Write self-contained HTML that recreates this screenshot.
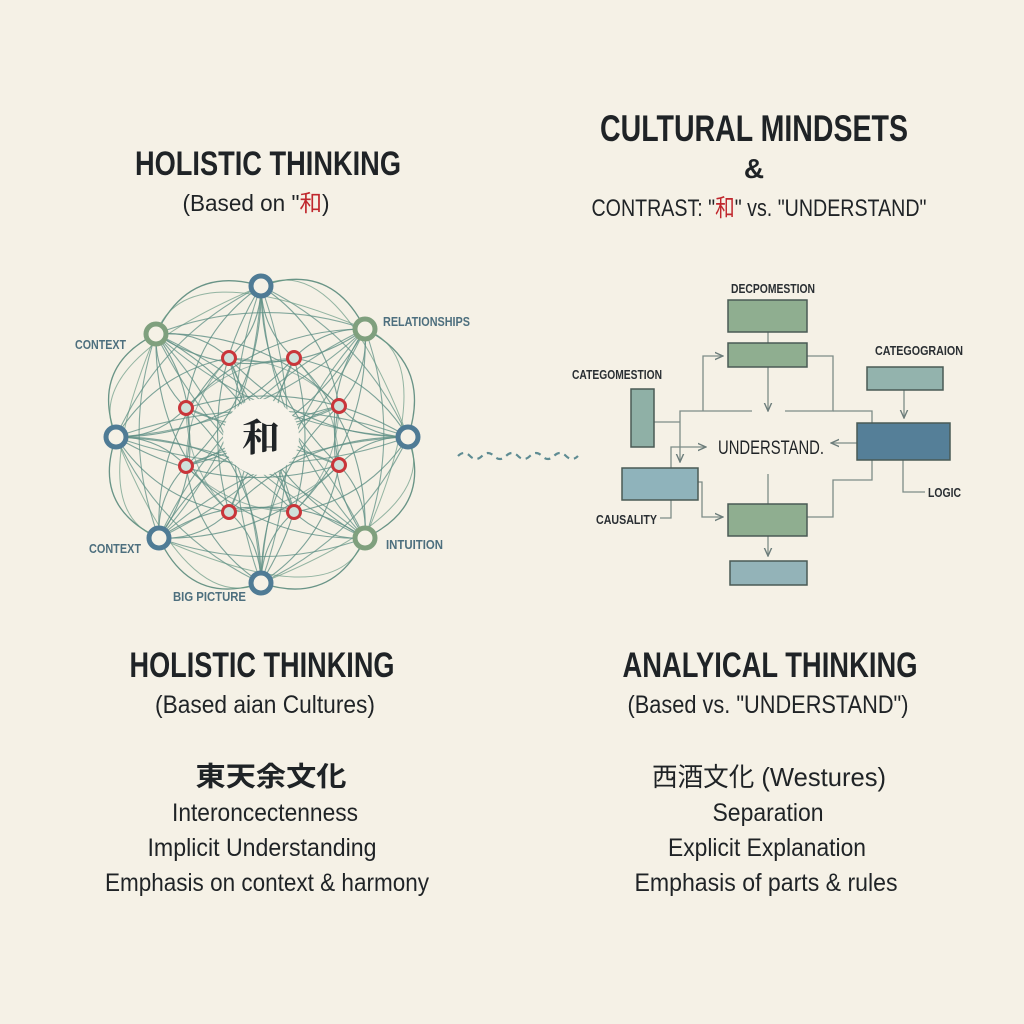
<!DOCTYPE html>
<html><head><meta charset="utf-8"><style>
html,body{margin:0;padding:0;background:#f5f1e6;}
svg{display:block;}
text{font-family:"Liberation Sans Narrow","Liberation Sans","Noto Sans CJK JP",sans-serif;fill:#1f2326;}
.lab{font-size:13px;fill:#4d6f7e;font-weight:bold;}
.rl{font-size:13px;fill:#2a2f33;font-weight:bold;}
.t{font-weight:bold;}
</style></head><body>
<svg id="s" width="1024" height="1024" viewBox="0 0 1024 1024" xmlns="http://www.w3.org/2000/svg">
<rect width="1024" height="1024" fill="#f5f1e6"/>
<text class="t" x="268" y="175" font-size="34" text-anchor="middle" textLength="266" lengthAdjust="spacingAndGlyphs">HOLISTIC THINKING</text>
<text x="256" y="211" font-size="23" text-anchor="middle" textLength="147" lengthAdjust="spacingAndGlyphs">(Based on "<tspan fill="#c0272d">和</tspan>)</text>
<text class="t" x="754" y="141" font-size="37" text-anchor="middle" textLength="308" lengthAdjust="spacingAndGlyphs">CULTURAL MINDSETS</text>
<text class="t" x="754" y="178" font-size="28" text-anchor="middle">&amp;</text>
<text x="759" y="216" font-size="24" text-anchor="middle" textLength="335" lengthAdjust="spacingAndGlyphs">CONTRAST: "<tspan fill="#c0272d">和</tspan>" vs. "UNDERSTAND"</text>

<defs><marker id="ar" viewBox="0 0 10 10" refX="9" refY="5" markerWidth="7" markerHeight="7" orient="auto"><path d="M0,1 L9,5 L0,9" fill="none" stroke="#6b7c7a" stroke-width="1.5"/></marker>
<marker id="ar2" viewBox="0 0 10 10" refX="9" refY="5" markerWidth="8" markerHeight="8" orient="auto"><path d="M0,1 L9,5 L0,9" fill="none" stroke="#4f7b8a" stroke-width="1.5"/></marker></defs>
<g id="net" fill="none"></g>
<circle cx="261" cy="437" r="38" fill="#f7f3ea"/>
<text x="261" y="451" font-size="38" text-anchor="middle" style="font-family:'Noto Serif CJK SC',serif" font-weight="bold">和</text>
<g id="nodes"></g>
<text class="lab" x="75" y="349" textLength="51" lengthAdjust="spacingAndGlyphs">CONTEXT</text>
<text class="lab" x="383" y="326" textLength="87" lengthAdjust="spacingAndGlyphs">RELATIONSHIPS</text>
<text class="lab" x="89" y="553" textLength="52" lengthAdjust="spacingAndGlyphs">CONTEXT</text>
<text class="lab" x="386" y="549" textLength="57" lengthAdjust="spacingAndGlyphs">INTUITION</text>
<text class="lab" x="173" y="601" textLength="73" lengthAdjust="spacingAndGlyphs">BIG PICTURE</text>

<path d="M458,456 q6,-6 12,0 q6,6 12,0 q6,-6 12,0 q6,6 12,0 q6,-6 12,0 q6,6 12,0 q6,-6 12,0 q6,6 12,0 q6,-6 12,0 q6,6 12,0" stroke="#5e8c93" stroke-width="2.2" fill="none" stroke-dasharray="6 5"/>

<g stroke="#7d8c88" stroke-width="1.3" fill="none">
<line x1="768" y1="300" x2="768" y2="343"/>
<line x1="768" y1="367" x2="768" y2="411" marker-end="url(#ar)"/>
<polyline points="752,411 680,411 680,462" marker-end="url(#ar)"/>
<polyline points="703,411 703,356 723,356" marker-end="url(#ar)"/>
<polyline points="807,356 833,356 833,411 785,411"/>
<polyline points="833,411 872,411 872,423"/>
<polyline points="654,422 680,422"/>
<polyline points="671,468 671,447 706,447" marker-end="url(#ar)"/>
<line x1="857" y1="443" x2="831" y2="443" marker-end="url(#ar)"/>
<line x1="904" y1="390" x2="904" y2="418" marker-end="url(#ar)"/>
<polyline points="903,460 903,492 925,492"/>
<polyline points="671,500 671,518 660,518"/>
<polyline points="698,482 702,482 702,517 723,517" marker-end="url(#ar)"/>
<line x1="768" y1="474" x2="768" y2="504"/>
<polyline points="807,517 833,517 833,480 872,480 872,460"/>
<line x1="768" y1="536" x2="768" y2="556" marker-end="url(#ar)"/>
</g>
<g stroke="#4a5a55" stroke-width="1.5">
<rect x="728" y="300" width="79" height="32" fill="#8fae90"/>
<rect x="728" y="343" width="79" height="24" fill="#8fae90"/>
<rect x="631" y="389" width="23" height="58" fill="#8fb0a6"/>
<rect x="622" y="468" width="76" height="32" fill="#8fb3bb"/>
<rect x="857" y="423" width="93" height="37" fill="#557f98"/>
<rect x="867" y="367" width="76" height="23" fill="#93b3ad"/>
<rect x="728" y="504" width="79" height="32" fill="#8fae90"/>
<rect x="730" y="561" width="77" height="24" fill="#93b3b8"/>
</g>
<text class="rl" x="731" y="293" textLength="84" lengthAdjust="spacingAndGlyphs">DECPOMESTION</text>
<text class="rl" x="572" y="379" textLength="90" lengthAdjust="spacingAndGlyphs">CATEGOMESTION</text>
<text class="rl" x="875" y="355" textLength="88" lengthAdjust="spacingAndGlyphs">CATEGOGRAION</text>
<text class="rl" x="928" y="497" textLength="33" lengthAdjust="spacingAndGlyphs">LOGIC</text>
<text class="rl" x="596" y="524" textLength="61" lengthAdjust="spacingAndGlyphs">CAUSALITY</text>
<text x="718" y="454" font-size="19" textLength="106" lengthAdjust="spacingAndGlyphs">UNDERSTAND.</text>

<text class="t" x="262" y="677" font-size="35" text-anchor="middle" textLength="265" lengthAdjust="spacingAndGlyphs">HOLISTIC THINKING</text>
<text x="265" y="713" font-size="25" text-anchor="middle" textLength="220" lengthAdjust="spacingAndGlyphs">(Based aian Cultures)</text>
<text class="t" x="271" y="786" font-size="27" text-anchor="middle" textLength="151" lengthAdjust="spacingAndGlyphs">東天余文化</text>
<text x="265" y="821" font-size="25" text-anchor="middle" textLength="186" lengthAdjust="spacingAndGlyphs">Interoncectenness</text>
<text x="262" y="856" font-size="25" text-anchor="middle" textLength="229" lengthAdjust="spacingAndGlyphs">Implicit Understanding</text>
<text x="267" y="891" font-size="25" text-anchor="middle" textLength="324" lengthAdjust="spacingAndGlyphs">Emphasis on context &amp; harmony</text>

<text class="t" x="770" y="677" font-size="35" text-anchor="middle" textLength="295" lengthAdjust="spacingAndGlyphs">ANALYICAL THINKING</text>
<text x="768" y="713" font-size="25" text-anchor="middle" textLength="281" lengthAdjust="spacingAndGlyphs">(Based vs. "UNDERSTAND")</text>
<text x="769" y="786" font-size="26" text-anchor="middle" textLength="234" lengthAdjust="spacingAndGlyphs">西酒文化 (Westures)</text>
<text x="768" y="821" font-size="25" text-anchor="middle" textLength="111" lengthAdjust="spacingAndGlyphs">Separation</text>
<text x="767" y="856" font-size="25" text-anchor="middle" textLength="198" lengthAdjust="spacingAndGlyphs">Explicit Explanation</text>
<text x="766" y="891" font-size="25" text-anchor="middle" textLength="263" lengthAdjust="spacingAndGlyphs">Emphasis of parts &amp; rules</text>
</svg>
<script>
(function(){
var NS="http://www.w3.org/2000/svg",net=document.getElementById("net"),nodes=document.getElementById("nodes");
var cx=261,cy=437;
var O=[[261,286,"b"],[365,329,"g"],[408,437,"b"],[365,538,"g"],[261,583,"b"],[159,538,"b"],[116,437,"b"],[156,334,"g"]];
var I=[[229,358],[294,358],[339,406],[339,465],[294,512],[229,512],[186,466],[186,408]];
function P(d,c,w,o,m){var p=document.createElementNS(NS,"path");p.setAttribute("d",d);p.setAttribute("stroke",c);p.setAttribute("stroke-width",w);p.setAttribute("opacity",o);if(m)p.setAttribute("marker-end","url(#ar2)");net.appendChild(p);}
function curve(a,b,k){var mx=(a[0]+b[0])/2,my=(a[1]+b[1])/2,dx=b[0]-a[0],dy=b[1]-a[1];var qx=mx-dy*k,qy=my+dx*k;return "M"+a[0]+","+a[1]+" Q"+qx+","+qy+" "+b[0]+","+b[1];}
var g="#5e8f84";
for(var i=0;i<8;i++){
 for(var j=0;j<8;j++){ if(Math.abs(i-j)%8==4) continue; P(curve(O[i],I[j],(j%2?0.22:-0.22)),g,1.1,0.8);}
 for(var s=2;s<=4;s++){var b=O[(i+s)%8];P(curve(O[i],b,0.18*(s%2?1:-1)),g,1.1,0.75);}
 var b2=O[(i+1)%8];var mx=(O[i][0]+b2[0])/2,my=(O[i][1]+b2[1])/2,vx=mx-cx,vy=my-cy,l=Math.sqrt(vx*vx+vy*vy);
 P("M"+O[i][0]+","+O[i][1]+" Q"+(mx+vx/l*50)+","+(my+vy/l*50)+" "+b2[0]+","+b2[1],"#5a8a7c",1.3,0.9,i%2==0);
 var b3=O[(i+2)%8];P("M"+O[i][0]+","+O[i][1]+" Q"+(cx+(mx-cx)*1.45)+","+(cy+(my-cy)*1.45)+" "+b3[0]+","+b3[1],"#6a9a84",1,0.7);
}
for(var j=0;j<8;j++){P(curve(I[j],I[(j+3)%8],0.25),g,1.1,0.75);P(curve(I[j],I[(j+2)%8],-0.2),g,1,0.6);}
function C(x,y,r,f,s,w){var c=document.createElementNS(NS,"circle");c.setAttribute("cx",x);c.setAttribute("cy",y);c.setAttribute("r",r);c.setAttribute("fill",f);c.setAttribute("stroke",s);c.setAttribute("stroke-width",w);nodes.appendChild(c);}
O.forEach(function(o){C(o[0],o[1],10,"#f5f1e6",o[2]=="b"?"#4f7b95":"#7fa07e",5);});
I.forEach(function(o){C(o[0],o[1],6.5,"#cfe0da","#c9353a",3);});
})();
</script>
</body></html>
